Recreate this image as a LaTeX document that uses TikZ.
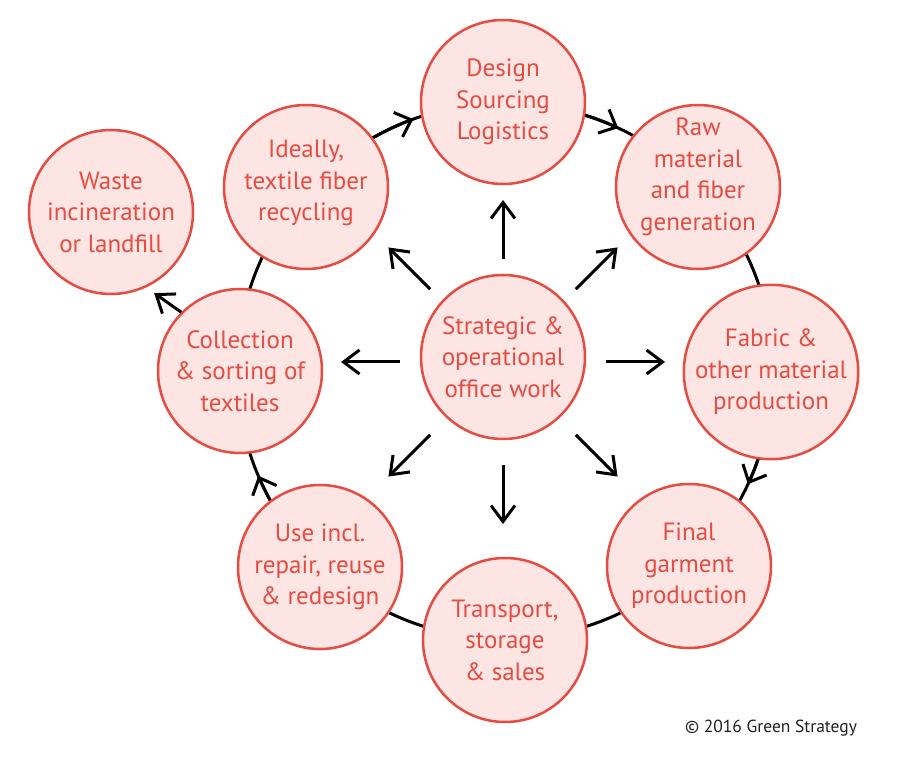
\documentclass[tikz,border=0pt]{standalone}
\usepackage{fontspec}
\setmainfont{PT Sans}
\usetikzlibrary{arrows.meta,calc}
\definecolor{bubfill}{RGB}{252,229,227}
\definecolor{bubline}{RGB}{230,76,66}
\definecolor{inkgray}{RGB}{35,31,32}
\begin{document}
\begin{tikzpicture}[x=1pt,y=1pt,
  bubtext/.style={align=center, text=bubline, inner sep=0pt, font=\fontsize{25}{31.5}\selectfont},
  bub/.style={circle, draw=bubline, fill=bubfill, line width=2.5pt, minimum size=164pt,
    inner sep=0pt, bubtext},
  ringline/.style={line width=3pt, black},
  ringarr/.style={line width=3pt, black, -{Straight Barb[length=14pt,width=26pt]}},
  arr/.style={line width=3pt, black, -{Straight Barb[length=16pt,width=24pt]}}]
\useasboundingbox (0,0) rectangle (900,780);
\fill[white] (0,0) rectangle (900,780);
\coordinate (ring) at (505,409);
\draw[ringline] (ring) circle[radius=268];
% ring arrowheads (clockwise)
\draw[ringarr] ($(ring)+(120:268)$) arc (120:110:268);
\draw[ringarr] ($(ring)+(75:268)$) arc (75:65:268);
\draw[ringarr] ($(ring)+(-15:268)$) arc (-15:-25:268);
\draw[ringarr] ($(ring)+(213:268)$) arc (213:203:268);
% nodes
\node[bub] (design) at (503,678) {Design\\Sourcing\\Logistics};
\node[bub] (raw) at (698,593) {};
\node[bubtext] (rawtext) at ($(raw)+(0,10)$) {Raw\\material\\and fiber\\generation};
\node[bub] (fabric) at (771,408) {Fabric \&\\other material\\production};
\node[bub] (final) at (689,214) {Final\\garment\\production};
\node[bub] (transport) at (505,140) {Transport,\\storage\\\& sales};
\node[bub] (use) at (320,213) {Use incl.\\repair, reuse\\\& redesign};
\node[bub] (coll) at (240,409) {Collection\\\& sorting of\\textiles};
\node[bub] (ideal) at (306,593) {};
\node[bubtext] (idealtext) at ($(ideal)+(0,4)$) {Ideally,\\textile fiber\\recycling};
\node[bub] (waste) at (111,568) {Waste\\incineration\\or landfill};
\node[bub] (center) at (503,423) {Strategic \&\\operational\\office work};
% center arrows
\coordinate (hub) at (503,418);
\foreach \a in {0,45,...,315}
  \draw[arr] ($(hub)+(\a:103)$) -- ($(hub)+(\a:162)$);
% collection to waste
\draw[arr] (coll.135) -- ++(-27,19);
\node[text=inkgray, font=\fontsize{17.5}{21}\selectfont] (copy) at (771,52) {© 2016 Green Strategy};
\end{tikzpicture}
\end{document}
